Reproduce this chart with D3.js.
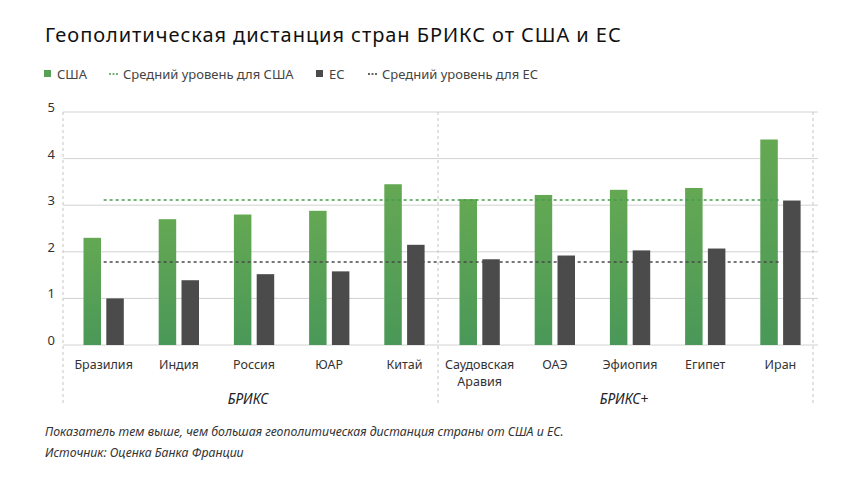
<!DOCTYPE html>
<html><head><meta charset="utf-8">
<script src="https://cdn.jsdelivr.net/npm/d3@7"></script>
<style>
body{margin:0;background:#fff;}
text{font-family:"Noto Sans","Open Sans",sans-serif;}
</style></head>
<body><svg id="c" width="860" height="484"></svg>
<script>
const categories = ["Бразилия","Индия","Россия","ЮАР","Китай","Саудовская Аравия","ОАЭ","Эфиопия","Египет","Иран"];
const categoryLines = [["Бразилия"],["Индия"],["Россия"],["ЮАР"],["Китай"],["Саудовская","Аравия"],["ОАЭ"],["Эфиопия"],["Египет"],["Иран"]];
const usaValues = [2.30,2.70,2.80,2.88,3.45,3.13,3.22,3.33,3.37,4.41];
const euValues  = [1.00,1.39,1.52,1.58,2.15,1.84,1.92,2.03,2.07,3.10];
const usaAverage = 3.11;
const euAverage = 1.78;
const yTicks = [0,1,2,3,4,5];
const groups = [{name:"БРИКС", from:0, to:4},{name:"БРИКС+", from:5, to:9}];
const legendItems = ["США","Средний уровень для США","ЕС","Средний уровень для ЕС"];
const title = "Геополитическая дистанция стран БРИКС от США и ЕС";
const notes = ["Показатель тем выше, чем большая геополитическая дистанция страны от США и ЕС.","Источник: Оценка Банка Франции"];

const svg = d3.select("#c");
const green = "#57a157", dark = "#4b4b4b";
const defs = svg.append("defs");
const lg = defs.append("linearGradient").attr("id","g").attr("x1",0).attr("y1",0).attr("x2",0).attr("y2",1);
lg.append("stop").attr("offset","0%").attr("stop-color","#64a853");
lg.append("stop").attr("offset","100%").attr("stop-color","#4a9858");

const x = d3.scaleBand().domain(categories).range([63,815]);
const y = d3.scaleLinear().domain([0,5]).range([345,112]);
const bw = 17.5, off = 20.5, gap = 5.3;
const gc = off + bw + gap/2;

// title
svg.append("text").attr("x",45).attr("y",42).attr("font-size",20).attr("letter-spacing",0.95)
  .attr("fill","#111").text(title);

// grid
svg.append("g").selectAll("line").data(yTicks).join("line")
  .attr("x1",63).attr("x2",818).attr("y1",d=>y(d)).attr("y2",d=>y(d))
  .attr("stroke","#d2d2d2").attr("stroke-width",1);
svg.append("g").selectAll("text").data(yTicks).join("text")
  .attr("x",55).attr("y",d=>y(d)).attr("text-anchor","end")
  .attr("font-size",13).attr("fill","#333").text(d=>d);

// separators
const seps = [x.range()[0], x(categories[5]) - 1, x.range()[1]-2];
svg.append("g").selectAll("line").data(seps).join("line")
  .attr("x1",d=>d).attr("x2",d=>d).attr("y1",112).attr("y2",405)
  .attr("stroke","#c4c4c4").attr("stroke-dasharray","3,3").attr("stroke-width",1);

// bars
svg.append("g").selectAll("rect").data(categories).join("rect")
  .attr("x",d=>x(d)+off).attr("width",bw)
  .attr("y",(d,i)=>y(usaValues[i])).attr("height",(d,i)=>y(0)-y(usaValues[i]))
  .attr("fill","url(#g)");
svg.append("g").selectAll("rect").data(categories).join("rect")
  .attr("x",d=>x(d)+off+bw+gap).attr("width",bw)
  .attr("y",(d,i)=>y(euValues[i])).attr("height",(d,i)=>y(0)-y(euValues[i]))
  .attr("fill",dark);

// averages
const avg = [{v:usaAverage,c:"#4a9a50"},{v:euAverage,c:"#4a4a4a"}];
svg.append("g").selectAll("line").data(avg).join("line")
  .attr("x1",x(categories[0])+gc).attr("x2",x(categories[9])+gc)
  .attr("y1",d=>y(d.v)).attr("y2",d=>y(d.v))
  .attr("stroke",d=>d.c).attr("stroke-width",1.6).attr("stroke-dasharray","3,3");

// category labels
const cl = svg.append("g").selectAll("text").data(categories).join("text")
  .attr("x",d=>x(d)+gc).attr("y",369).attr("text-anchor","middle")
  .attr("font-size",12.5).attr("fill","#333");
cl.each(function(d,i){
  d3.select(this).selectAll("tspan").data(categoryLines[i]).join("tspan")
    .attr("x",x(d)+gc).attr("dy",(t,j)=>j?17:0).text(t=>t);
});

// group labels
svg.append("g").selectAll("text").data(groups).join("text")
  .attr("x",d=>(x(categories[d.from])+x(categories[d.to])+x.bandwidth())/2 - 3)
  .attr("y",404).attr("text-anchor","middle").attr("font-size",14)
  .attr("font-style","italic").attr("font-weight",400).attr("fill","#222").text(d=>d.name);

// legend
const leg = svg.append("g");
const lx = [44,109,316,368];
legendItems.forEach((t,i)=>{
  const cx = lx[i];
  if(i%2===0){
    leg.append("rect").attr("x",cx).attr("y",70).attr("width",7).attr("height",7)
      .attr("fill",i===0?green:dark);
  } else {
    leg.append("line").attr("x1",cx).attr("x2",cx+9).attr("y1",74).attr("y2",74)
      .attr("stroke",i===1?"#4a9a50":"#333").attr("stroke-width",1.6).attr("stroke-dasharray","2,1.5");
  }
  leg.append("text").attr("x",cx+(i%2===0?13:14)).attr("y",78.5).attr("font-size",13)
    .attr("fill","#444").text(t);
});

// notes
svg.append("g").selectAll("text").data(notes).join("text")
  .attr("x",45).attr("y",(d,i)=>436+i*21).attr("font-size",12.3)
  .attr("font-style","italic").attr("fill","#333").text(d=>d);
</script></body></html>
